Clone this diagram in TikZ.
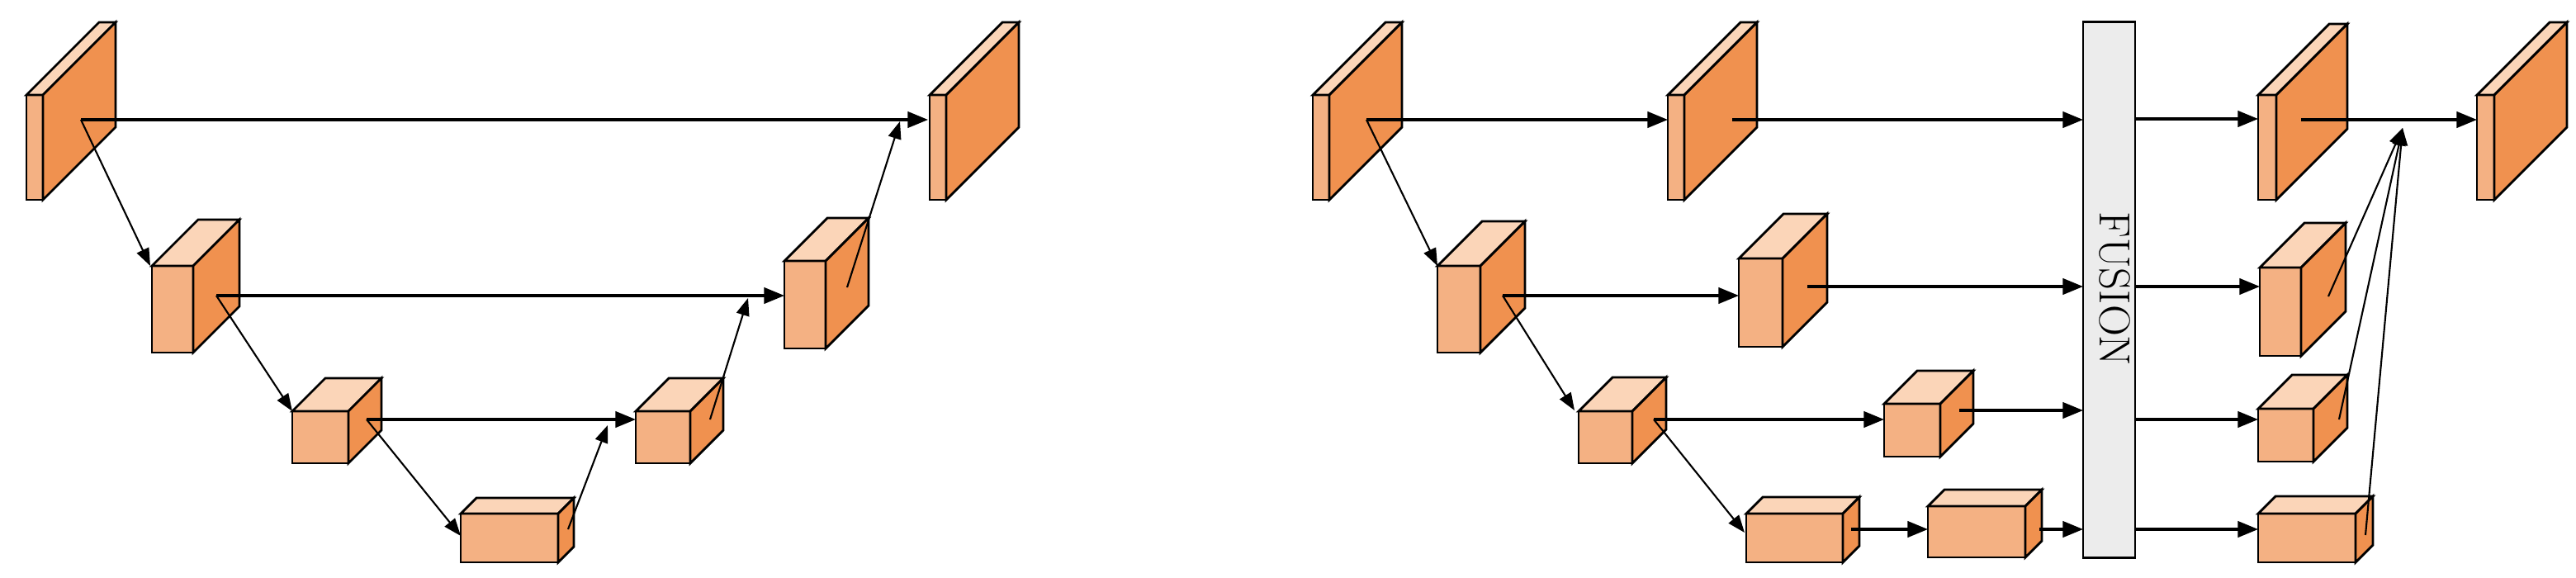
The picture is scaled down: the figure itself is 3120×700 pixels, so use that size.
\documentclass[tikz,border=0pt]{standalone}
\usetikzlibrary{arrows.meta}
\definecolor{cfront}{HTML}{F4B183}
\definecolor{cside}{HTML}{F0914F}
\definecolor{ctop}{HTML}{FBD5B8}
\definecolor{cfus}{HTML}{ECECEC}
\newcommand\cubebox[5]{%
  \filldraw[box,fill=cfront] (#1,#2) rectangle (#3,#4);
  \filldraw[box,fill=ctop] (#1,#2) -- ({#1+#5},{#2-#5}) -- ({#3+#5},{#2-#5}) -- (#3,#2) -- cycle;
  \filldraw[box,fill=cside] (#3,#2) -- ({#3+#5},{#2-#5}) -- ({#3+#5},{#4-#5}) -- (#3,#4) -- cycle;
}
\begin{document}
\begin{tikzpicture}[x=0.01cm,y=-0.01cm,
  box/.style={draw=black,line width=0.8pt,line join=miter},
  arr/.style={line width=0.9pt,-{Triangle[length=7pt,width=5.5pt]}},
  darr/.style={line width=0.6pt,-{Triangle[length=6pt,width=4.5pt]}}]
\useasboundingbox (0,0) rectangle (3120,700);
% ---------- left panel ----------
\cubebox{32}{115}{52}{242}{88}
\cubebox{184}{322}{234}{427}{56}
\cubebox{354}{498}{422}{561}{40}
\cubebox{558}{622}{676}{681}{19}
\cubebox{770}{498}{836}{561}{40}
\cubebox{950}{316}{1000}{422}{52}
\cubebox{1126}{115}{1146}{242}{88}
\coordinate (a1) at (98,145);   \coordinate (a7) at (1124,145);
\coordinate (a2in) at (182,322); \coordinate (a2) at (262,358); \coordinate (a6in) at (950,358);
\coordinate (a3in) at (354,498); \coordinate (a3) at (444,508); \coordinate (a5in) at (770,508);
\coordinate (a4in) at (558,649); \coordinate (a4) at (688,641); \coordinate (a5up) at (736,515);
\coordinate (a5) at (860,508); \coordinate (a6up) at (906,361);
\coordinate (a6) at (1026,348); \coordinate (a7up) at (1090,147);
\draw[arr] (a1) -- (a7);
\draw[arr] (a2) -- (a6in);
\draw[arr] (a3) -- (a5in);
\draw[darr] (a1) -- (a2in);
\draw[darr] (a2) -- (a3in);
\draw[darr] (a3) -- (a4in);
\draw[darr] (a4) -- (a5up);
\draw[darr] (a5) -- (a6up);
\draw[darr] (a6) -- (a7up);
% ---------- right panel ----------
\cubebox{1590}{115}{1610}{242}{88}
\cubebox{2020}{115}{2040}{242}{88}
\cubebox{2735}{115}{2757}{242}{86}
\cubebox{3000}{115}{3021}{242}{88}
\cubebox{1741}{322}{1793}{427}{54}
\cubebox{2106}{313}{2159}{420}{54}
\cubebox{2737}{324}{2787}{431}{54}
\cubebox{1912}{498}{1977}{561}{41}
\cubebox{2282}{489}{2350}{553}{40}
\cubebox{2735}{495}{2802}{559}{41}
\cubebox{2115}{622}{2232}{681}{20}
\cubebox{2335}{613}{2453}{675}{20}
\cubebox{2735}{622}{2853}{681}{21}
\node[draw=black,line width=0.8pt,fill=cfus,minimum width=63\pgflinewidth,inner sep=0pt,
  minimum width=0.63cm,minimum height=6.48cm] (fus) at (2554.5,351) {};
\node[rotate=-90,font=\fontsize{15}{18}\selectfont] (fustext) at (2561,350) {FUSION};
\coordinate (b1) at (1655,145); \coordinate (b2in) at (2020,145);
\coordinate (b2) at (2098,145); \coordinate (f1) at (2523,145);
\coordinate (g1) at (2586,144); \coordinate (b3in) at (2735,144);
\coordinate (b3) at (2787,145); \coordinate (b4in) at (3000,145);
\coordinate (c1in) at (1741,322); \coordinate (c1) at (1820,358); \coordinate (c2in) at (2106,358);
\coordinate (c2) at (2189,347); \coordinate (f2) at (2523,347);
\coordinate (g2) at (2586,347); \coordinate (c3in) at (2737,347);
\coordinate (d1in) at (1907,497); \coordinate (d1) at (2003,508); \coordinate (d2in) at (2282,508);
\coordinate (d2) at (2373,497); \coordinate (f3) at (2523,497);
\coordinate (g3) at (2586,508); \coordinate (d3in) at (2735,508);
\coordinate (e1in) at (2113,645); \coordinate (e1) at (2242,641); \coordinate (e2in) at (2335,641);
\coordinate (e2) at (2470,641); \coordinate (f4) at (2523,641);
\coordinate (g4) at (2586,641); \coordinate (e3in) at (2735,641);
\coordinate (c3) at (2820,359); \coordinate (d3) at (2833,508); \coordinate (e3) at (2865,648);
\coordinate (m) at (2910,155);
\draw[arr] (b1) -- (b2in);
\draw[arr] (b2) -- (f1);
\draw[arr] (g1) -- (b3in);
\draw[arr] (b3) -- (b4in);
\draw[arr] (c1) -- (c2in);
\draw[arr] (c2) -- (f2);
\draw[arr] (g2) -- (c3in);
\draw[arr] (d1) -- (d2in);
\draw[arr] (d2) -- (f3);
\draw[arr] (g3) -- (d3in);
\draw[arr] (e1) -- (e2in);
\draw[arr] (e2) -- (f4);
\draw[arr] (g4) -- (e3in);
\draw[darr] (b1) -- (c1in);
\draw[darr] (c1) -- (d1in);
\draw[darr] (d1) -- (e1in);
\draw[darr] (c3) -- (m);
\draw[darr] (d3) -- (m);
\draw[darr] (e3) -- (m);
\end{tikzpicture}
\end{document}
